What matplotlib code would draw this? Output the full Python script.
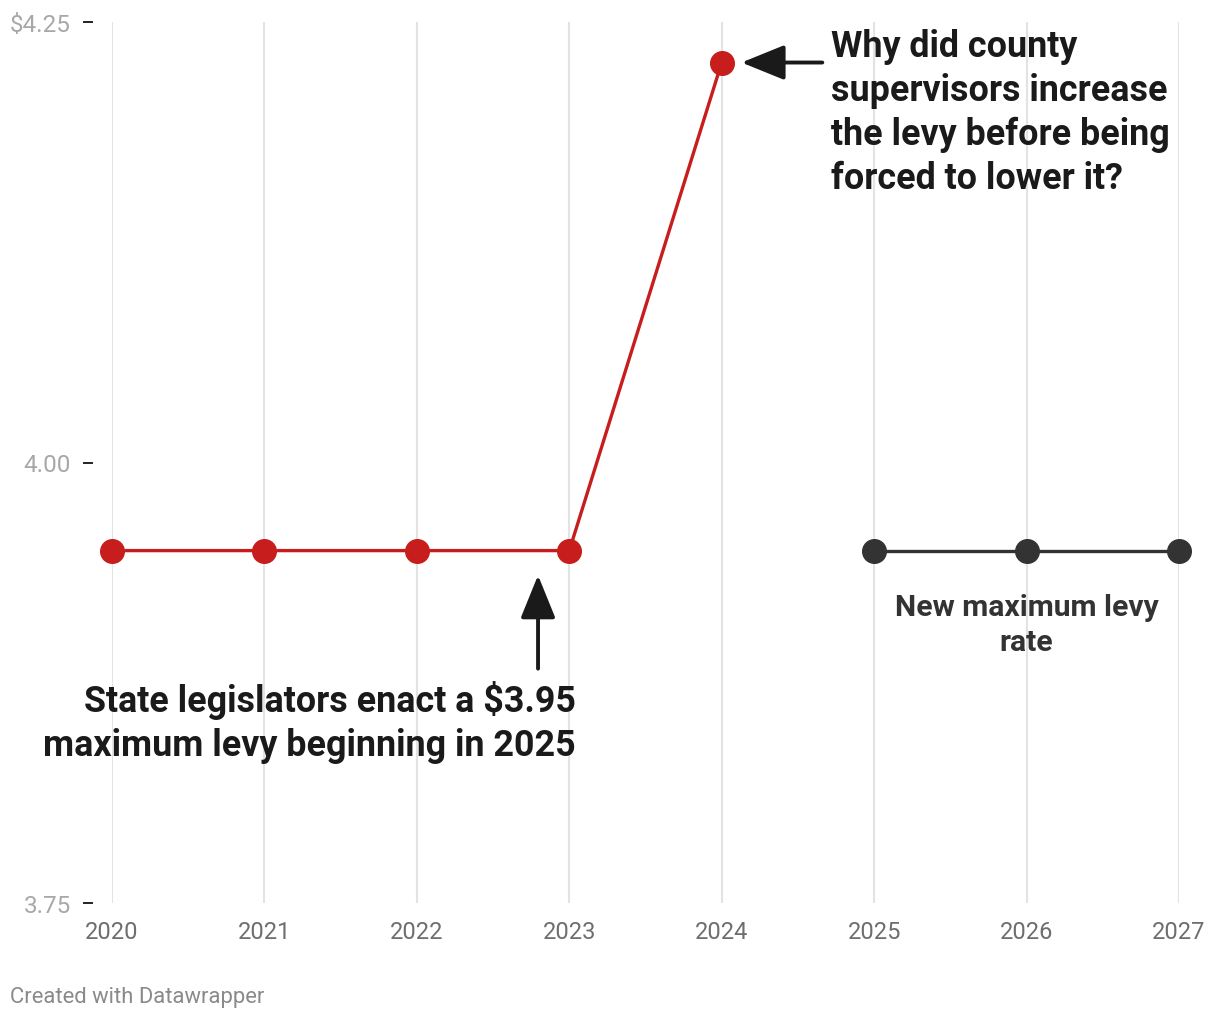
import matplotlib
matplotlib.use("Agg")
import matplotlib.pyplot as plt

plt.rcParams['font.family'] = ['Roboto', 'DejaVu Sans']

years_red = [2020, 2021, 2022, 2023, 2024]
levy_red = [3.95, 3.95, 3.95, 3.95, 4.227]
years_new = [2025, 2026, 2027]
levy_new = [3.95, 3.95, 3.95]

xticks = [2020, 2021, 2022, 2023, 2024, 2025, 2026, 2027]
yticks = [3.75, 4.00, 4.25]
ytick_labels = ['3.75', '4.00', '$4.25']

red = '#c71e1d'
dark = '#333333'

fig = plt.figure(figsize=(12.2, 10.2), dpi=100)
ax = fig.add_axes([112 / 1220, 1 - 904 / 1020, (1179 - 112) / 1220, (904 - 23) / 1020])

for yr in xticks:
    ax.axvline(yr, color='#e3e3e3', lw=1.5, zorder=0)

ax.plot(years_red, levy_red, color=red, lw=2.4, marker='o', ms=17, clip_on=False, zorder=3)
ax.plot(years_new, levy_new, color=dark, lw=2.4, marker='o', ms=17, clip_on=False, zorder=3)

ax.set_xlim(2020, 2027)
ax.set_ylim(3.75, 4.25)

for s in ax.spines.values():
    s.set_visible(False)
ax.spines['left'].set_position(('outward', 13.5))

ax.set_xticks(xticks)
ax.set_xticklabels([str(y) for y in xticks])
ax.tick_params(axis='x', length=0, pad=12, labelsize=17, labelcolor='#6e6e6e')
ax.set_yticks(yticks)
ax.set_yticklabels(ytick_labels)
ax.tick_params(axis='y', length=7, width=1.3, color='#111111', pad=9, labelsize=17.5, labelcolor='#a8a8a8')

# annotations
ax.annotate('', xy=(2024.13, 4.227), xytext=(2024.66, 4.227),
            arrowprops=dict(arrowstyle='-|>,head_length=1.33,head_width=0.54',
                            mutation_scale=20, color='#1a1a1a', lw=2.8,
                            shrinkA=0, shrinkB=0))
ax.text(2024.72, 4.199, 'Why did county\nsupervisors increase\nthe levy before being\nforced to lower it?',
        ha='left', va='center', fontsize=25.8, fontweight='bold', color='#1a1a1a',
        linespacing=1.28)

ax.annotate('', xy=(2022.795, 3.936), xytext=(2022.795, 3.883),
            arrowprops=dict(arrowstyle='-|>,head_length=1.33,head_width=0.54',
                            mutation_scale=20, color='#1a1a1a', lw=2.8,
                            shrinkA=0, shrinkB=0))
ax.text(2023.04, 3.853, 'State legislators enact a $3.95\nmaximum levy beginning in 2025',
        ha='right', va='center', fontsize=25.8, fontweight='bold', color='#1a1a1a',
        linespacing=1.28)

ax.text(2026, 3.908, 'New maximum levy\nrate', ha='center', va='center',
        fontsize=21.7, fontweight='bold', color=dark, linespacing=1.3)

fig.text(10 / 1220, 1 - 998 / 1020, 'Created with Datawrapper', ha='left', va='center',
         fontsize=15.8, color='#8a8a8a')

fig.savefig('out.png', dpi=100)
